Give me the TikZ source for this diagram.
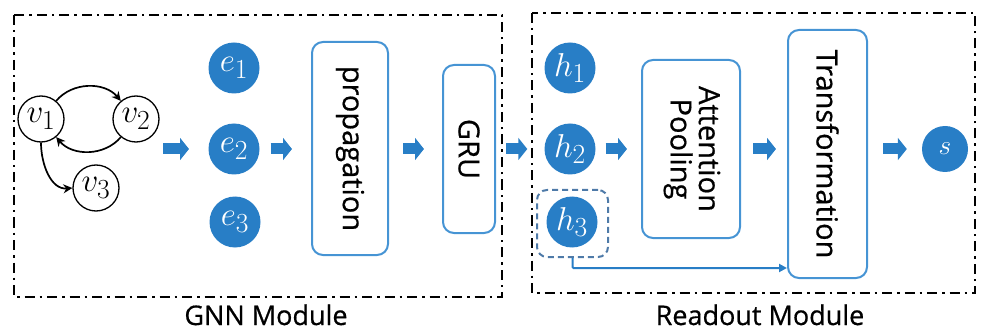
\documentclass[tikz,border=0pt]{standalone}
\usepackage{fontspec}
\usepackage{graphicx}
\usetikzlibrary{arrows.meta,calc}
\newfontfamily\labelfont{Open Sans}[FakeBold=0.6]
\definecolor{dotblue}{RGB}{40,126,198}
\definecolor{boxblue}{RGB}{70,148,212}
\definecolor{dashblue}{RGB}{78,122,168}
% math symbol at a size beyond the largest fixed math font size
\newcommand\symb[2][1.33]{\scalebox{#1}{$#2$}}
\begin{document}
\begin{tikzpicture}[x=1pt,y=-1pt,
  vnode/.style={circle,draw=black,line width=1.3pt,minimum size=46pt,inner sep=0pt,
    font=\fontsize{24.88}{25}\selectfont},
  dot/.style={circle,fill=dotblue,minimum size=51pt,inner sep=0pt,text=white,
    font=\fontsize{24.88}{25}\selectfont},
  stagebox/.style={draw=boxblue,line width=2pt,rounded corners=11pt,inner sep=0pt,
    font=\labelfont\fontsize{29}{31}\selectfont},
  modborder/.style={draw=black,line width=2.4pt,
    dash pattern=on 10pt off 5pt on 2.5pt off 5pt},
  gedge/.style={draw=black,line width=1.7pt,-{Stealth[length=9pt,width=9pt]}},
  fat/.style={draw=dotblue,line width=11pt,-{Triangle[length=9pt,width=22pt]}},
  link/.style={draw=dotblue,line width=2pt,-{Triangle[length=8pt,width=8pt]}},
  modlabel/.style={font=\labelfont\fontsize{27}{27}\selectfont,anchor=base}
]
\useasboundingbox (0,0) rectangle (982,331);

% module frames
\draw[modborder] (14,15) rectangle (502,297);
\draw[modborder] (532,13) rectangle (975,293);
\node[modlabel] (gnnlbl) at (266,325) {GNN Module};
\node[modlabel] (readlbl) at (760,325) {Readout Module};

% input graph
\node[vnode] (v1) at (41,119) {\symb{v_1}};
\node[vnode] (v2) at (136,119) {\symb{v_2}};
\node[vnode] (v3) at (96,188) {\symb{v_3}};
\draw[gedge] (v1) to[bend left=50] (v2);
\draw[gedge] (v2) to[bend left=50] (v1);
\draw[gedge] (v1.south) to[out=-90,in=185] (v3.west);

% edge embeddings
\node[dot] (e1) at (234,68) {\symb{e_1}};
\node[dot] (e2) at (234,149) {\symb{e_2}};
\node[dot] (e3) at (235,222) {\symb{e_3}};

% GNN stages
\node[stagebox,minimum width=76pt,minimum height=213pt] (prop) at (350,148.5)
  {\rotatebox{-90}{propagation}};
\node[stagebox,minimum width=52pt,minimum height=168pt] (gru) at (469,149)
  {\rotatebox{-90}{GRU}};

% node states
\node[dot] (h1) at (570,68) {\symb{h_1}};
\node[dot] (h2) at (570,149) {\symb{h_2}};
\node[dot] (h3) at (572,222) {\symb{h_3}};
\node[draw=dashblue,line width=2pt,dash pattern=on 6pt off 4pt,
  rounded corners=10pt,minimum width=71pt,minimum height=67pt] (h3box) at (572.5,223.5) {};

% readout stages
\node[stagebox,minimum width=98pt,minimum height=178pt] (att) at (691,149)
  {\rotatebox{-90}{\begin{tabular}{@{}c@{}}Attention\\[-3pt]Pooling\end{tabular}}};
\node[stagebox,minimum width=79pt,minimum height=248pt] (trans) at (827.5,154)
  {\rotatebox{-90}{Transformation}};
\node[dot,minimum size=46pt] (s) at (945,149) {\symb[1.1]{s}};

% flow arrows
\coordinate (gout) at (163,149);
\draw[fat] (gout) -- (189,149);
\draw[fat,shorten <=11pt,shorten >=19pt] (e2) -- (e2 -| prop.west);
\draw[fat,shorten <=14pt,shorten >=18pt] (prop.east |- gru) -- (gru.west);
\draw[fat,shorten <=10pt,shorten >=17pt] (gru.east) -- (h2.west);
\draw[fat,shorten <=10pt,shorten >=14pt] (h2.east) -- (h2 -| att.west);
\draw[fat,shorten <=12pt,shorten >=11pt] (att.east) -- (att.east -| trans.west);
\draw[fat,shorten <=15pt,shorten >=15pt] (s -| trans.east) -- (s.west);

% skip link from h3 to the transformation
\draw[link,rounded corners=1pt] (h3box.south) |- ($(trans.south west)+(0,-11)$);
\end{tikzpicture}
\end{document}
